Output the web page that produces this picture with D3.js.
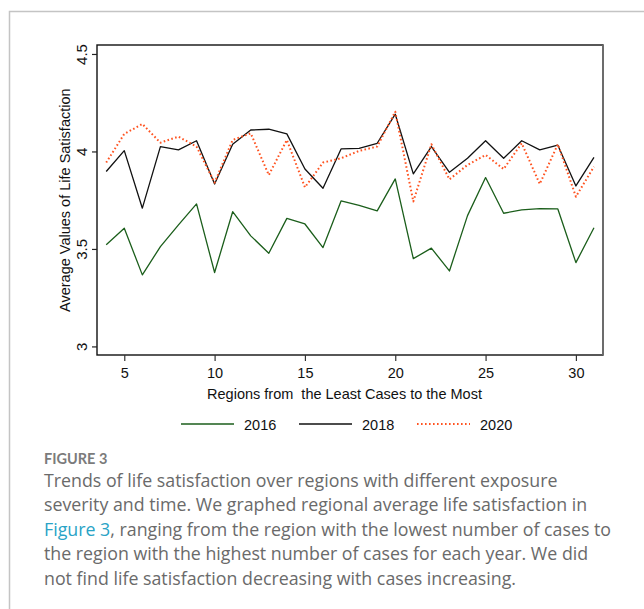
<!DOCTYPE html>
<html>
<head>
<meta charset="utf-8">
<script src="https://cdn.jsdelivr.net/npm/d3@7"></script>
<style>
  html, body { margin: 0; padding: 0; background: #fff; }
  svg { display: block; }
</style>
</head>
<body>
<svg id="chart" width="644" height="609"></svg>
<script>
// Regions ranked from the fewest cases (4) to the most (31)
const regions = d3.range(4, 32);

const values2016 = [3.521, 3.606, 3.367, 3.512, 3.623, 3.731, 3.379, 3.691, 3.567, 3.478,
  3.657, 3.628, 3.507, 3.746, 3.724, 3.695, 3.859, 3.450, 3.504, 3.387,
  3.671, 3.866, 3.683, 3.700, 3.707, 3.705, 3.430, 3.609];

const values2018 = [3.897, 4.004, 3.709, 4.025, 4.008, 4.055, 3.833, 4.037, 4.110, 4.114,
  4.090, 3.910, 3.811, 4.013, 4.016, 4.042, 4.191, 3.885, 4.025, 3.893,
  3.965, 4.055, 3.965, 4.055, 4.008, 4.032, 3.823, 3.970];

const values2020 = [3.943, 4.090, 4.141, 4.045, 4.076, 4.025, 3.840, 4.059, 4.093, 3.879,
  4.059, 3.816, 3.943, 3.965, 4.003, 4.025, 4.204, 3.743, 4.037, 3.857,
  3.931, 3.982, 3.910, 4.042, 3.833, 4.037, 3.768, 3.922];

const xTicks = [5, 10, 15, 20, 25, 30];
const yTicks = [3, 3.5, 4, 4.5];
const yTickLabels = ["3", "3.5", "4", "4.5"];

const seriesNames = ["2016", "2018", "2020"];
const seriesColors = ["#1b5e1b", "#111111", "#ff5320"];
const seriesDash = [null, null, "1.6,2.4"];
const seriesValues = [values2016, values2018, values2020];

const xTitle = "Regions from\u00a0 the Least Cases to the Most";
const yTitle = "Average Values of Life Satisfaction";

const captionHead = "FIGURE 3";
const captionLines = [
  [{ t: "Trends of life satisfaction over regions with different exposure" }],
  [{ t: "severity and time. We graphed regional average life satisfaction in" }],
  [{ t: "Figure 3", link: true }, { t: ", ranging from the region with the lowest number of cases to" }],
  [{ t: "the region with the highest number of cases for each year. We did" }],
  [{ t: "not find life satisfaction decreasing with cases increasing." }]
];

const svg = d3.select("#chart");
const axisFont = "'Liberation Sans', Arial, sans-serif";
const axisSize = 14.5;

// Outer panel border (top and left edges visible)
svg.append("path")
  .attr("d", "M9.5,700 V11.5 H700")
  .attr("fill", "none")
  .attr("stroke", "#c4c4c4")
  .attr("stroke-width", 1.5);

// Plot frame
const frame = { left: 97, right: 603, top: 45, bottom: 355 };

const x = d3.scaleLinear().domain([3.49, 31.5]).range([frame.left, frame.right]);
const y = d3.scaleLinear().domain([2.956, 4.546]).range([frame.bottom, frame.top]);

svg.append("rect")
  .attr("x", frame.left).attr("y", frame.top)
  .attr("width", frame.right - frame.left).attr("height", frame.bottom - frame.top)
  .attr("fill", "none").attr("stroke", "#111").attr("stroke-width", 1.4);
svg.append("line")
  .attr("x1", frame.right).attr("x2", frame.right)
  .attr("y1", frame.top).attr("y2", frame.bottom)
  .attr("stroke", "#6f6f6f").attr("stroke-width", 1.8);

// Y axis
const yAxis = svg.append("g")
  .attr("transform", `translate(${frame.left},0)`)
  .call(d3.axisLeft(y).tickValues(yTicks).tickSize(5).tickFormat((d, i) => yTickLabels[i]));
yAxis.attr("font-size", null).attr("font-family", null);
yAxis.select(".domain").remove();
yAxis.selectAll(".tick line").attr("stroke", "#222").attr("stroke-width", 1.2);
yAxis.selectAll(".tick text")
  .attr("x", null).attr("dy", null)
  .attr("transform", "translate(-10,0) rotate(-90)")
  .attr("text-anchor", "middle")
  .attr("font-family", axisFont).attr("font-size", 15).attr("fill", "#111");

// X axis
const xAxis = svg.append("g")
  .attr("transform", `translate(0,${frame.bottom})`)
  .call(d3.axisBottom(x).tickValues(xTicks).tickSize(6).tickFormat(d3.format("d")));
xAxis.attr("font-size", null).attr("font-family", null);
xAxis.select(".domain").remove();
xAxis.selectAll(".tick line").attr("stroke", "#333").attr("stroke-width", 1.2);
xAxis.selectAll(".tick text")
  .attr("y", 23).attr("dy", null)
  .attr("font-family", axisFont).attr("font-size", axisSize).attr("fill", "#111");

// Axis titles
svg.append("text")
  .attr("x", 344.5).attr("y", 399)
  .attr("text-anchor", "middle")
  .attr("font-family", axisFont).attr("font-size", axisSize).attr("fill", "#111")
  .text(xTitle);
svg.append("text")
  .attr("transform", `translate(70,${(y(3) + y(4.5)) / 2}) rotate(-90)`)
  .attr("text-anchor", "middle")
  .attr("font-family", axisFont).attr("font-size", axisSize).attr("fill", "#111")
  .text(yTitle);

// Series lines
const line = d3.line().x((d, i) => x(regions[i])).y(d => y(d));
seriesValues.forEach((vals, k) => {
  svg.append("path")
    .datum(vals)
    .attr("d", line)
    .attr("fill", "none")
    .attr("stroke", seriesColors[k])
    .attr("stroke-width", k === 2 ? 2 : 1.3)
    .attr("stroke-dasharray", seriesDash[k])
    .attr("stroke-linejoin", "round");
});

// Legend
const legendX = [181, 299, 417];
const legend = svg.append("g").attr("transform", "translate(0,424)");
seriesNames.forEach((name, k) => {
  legend.append("line")
    .attr("x1", legendX[k]).attr("x2", legendX[k] + 53)
    .attr("y1", 0).attr("y2", 0)
    .attr("stroke", seriesColors[k])
    .attr("stroke-width", k === 2 ? 2 : 1.3)
    .attr("stroke-dasharray", seriesDash[k]);
  legend.append("text")
    .attr("x", legendX[k] + 63).attr("y", 5.5)
    .attr("font-family", axisFont).attr("font-size", axisSize).attr("fill", "#111")
    .text(name);
});

// Caption
const capFont = "'Open Sans', Lato, sans-serif";
svg.append("text")
  .attr("x", 44).attr("y", 464)
  .attr("font-family", "Lato, 'Open Sans', sans-serif").attr("font-size", 14.5).attr("font-weight", 700)
  .attr("fill", "#7b7b7b")
  .text(captionHead);

captionLines.forEach((parts, i) => {
  const t = svg.append("text")
    .attr("x", 44).attr("y", 487 + i * 24.4)
    .attr("font-family", capFont).attr("font-size", 17.8)
    .attr("fill", "#6a6a6a");
  parts.forEach(p => {
    t.append("tspan").attr("fill", p.link ? "#29a3c6" : "#6a6a6a").text(p.t);
  });
});
</script>
</body>
</html>
